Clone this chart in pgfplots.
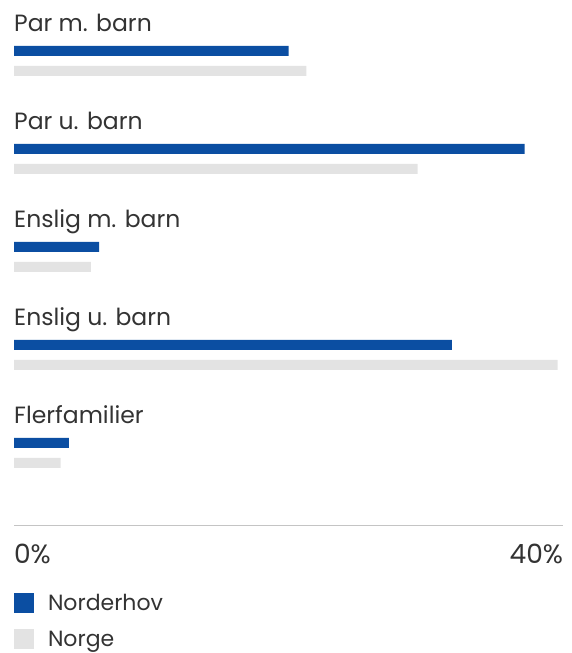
\documentclass[border=0pt]{standalone}
\usepackage{fontspec}
\setmainfont{Poppins}
\usepackage{pgfplots}
\pgfplotsset{compat=1.18}
\definecolor{nblue}{HTML}{0B4EA2}
\definecolor{ngray}{HTML}{E3E3E3}
\definecolor{txt}{HTML}{333333}
\definecolor{axl}{HTML}{C4C4C4}
\begin{document}
\begin{tikzpicture}[x=1pt,y=1pt]
\path[use as bounding box] (0,0) rectangle (571,653);
\begin{axis}[
  at={(14pt,127pt)}, anchor=south west,
  scale only axis, width=549pt, height=526pt,
  xmin=0, xmax=40, ymin=-526, ymax=0,
  axis x line*=bottom, axis y line=none,
  x axis line style={draw=axl, line width=1pt, -},
  xtick={0,40}, major tick length=0pt,
  xticklabels={\makebox[0pt][l]{0\%},\makebox[0pt][r]{40\%}},
  xticklabel style={font=\fontsize{26.5}{31}\selectfont, text=txt, yshift=-15pt},
  ytick=\empty,
  legend style={at={(axis cs:0,-592)}, anchor=north west, draw=none, fill=none,
    inner sep=0pt, outer sep=0pt, row sep=15pt,
    font=\fontsize{22}{26}\selectfont, text=txt,
    nodes={inner sep=2pt, text=txt}},
  legend cell align=left,
  legend image code/.code={\fill[#1] (0pt,-10pt) rectangle (20pt,10pt); \path (32pt,0pt);},
  clip=false,
]
\addplot[xbar, bar shift=0pt, bar width=10pt, fill=nblue, draw=none] coordinates {
 (20.0,-51) (37.2,-149) (6.2,-247) (31.9,-345) (4.0,-443)};
\addlegendentry{Norderhov}
\addplot[xbar, bar shift=0pt, bar width=10pt, fill=ngray, draw=none] coordinates {
 (21.3,-71) (29.4,-169) (5.6,-267) (39.6,-365) (3.4,-463)};
\addlegendentry{Norge}
\foreach \lab/\yy in {Par m. barn/-32, Par u. barn/-130, Enslig m. barn/-228, Enslig u. barn/-326, Flerfamilier/-424}{
  \edef\tmp{\noexpand\node[anchor=base west, inner sep=0pt, text=txt, font=\noexpand\fontsize{23.5}{28}\noexpand\selectfont] at (axis cs:0,\yy) {\lab};}\tmp
}
\end{axis}
\end{tikzpicture}
\end{document}
